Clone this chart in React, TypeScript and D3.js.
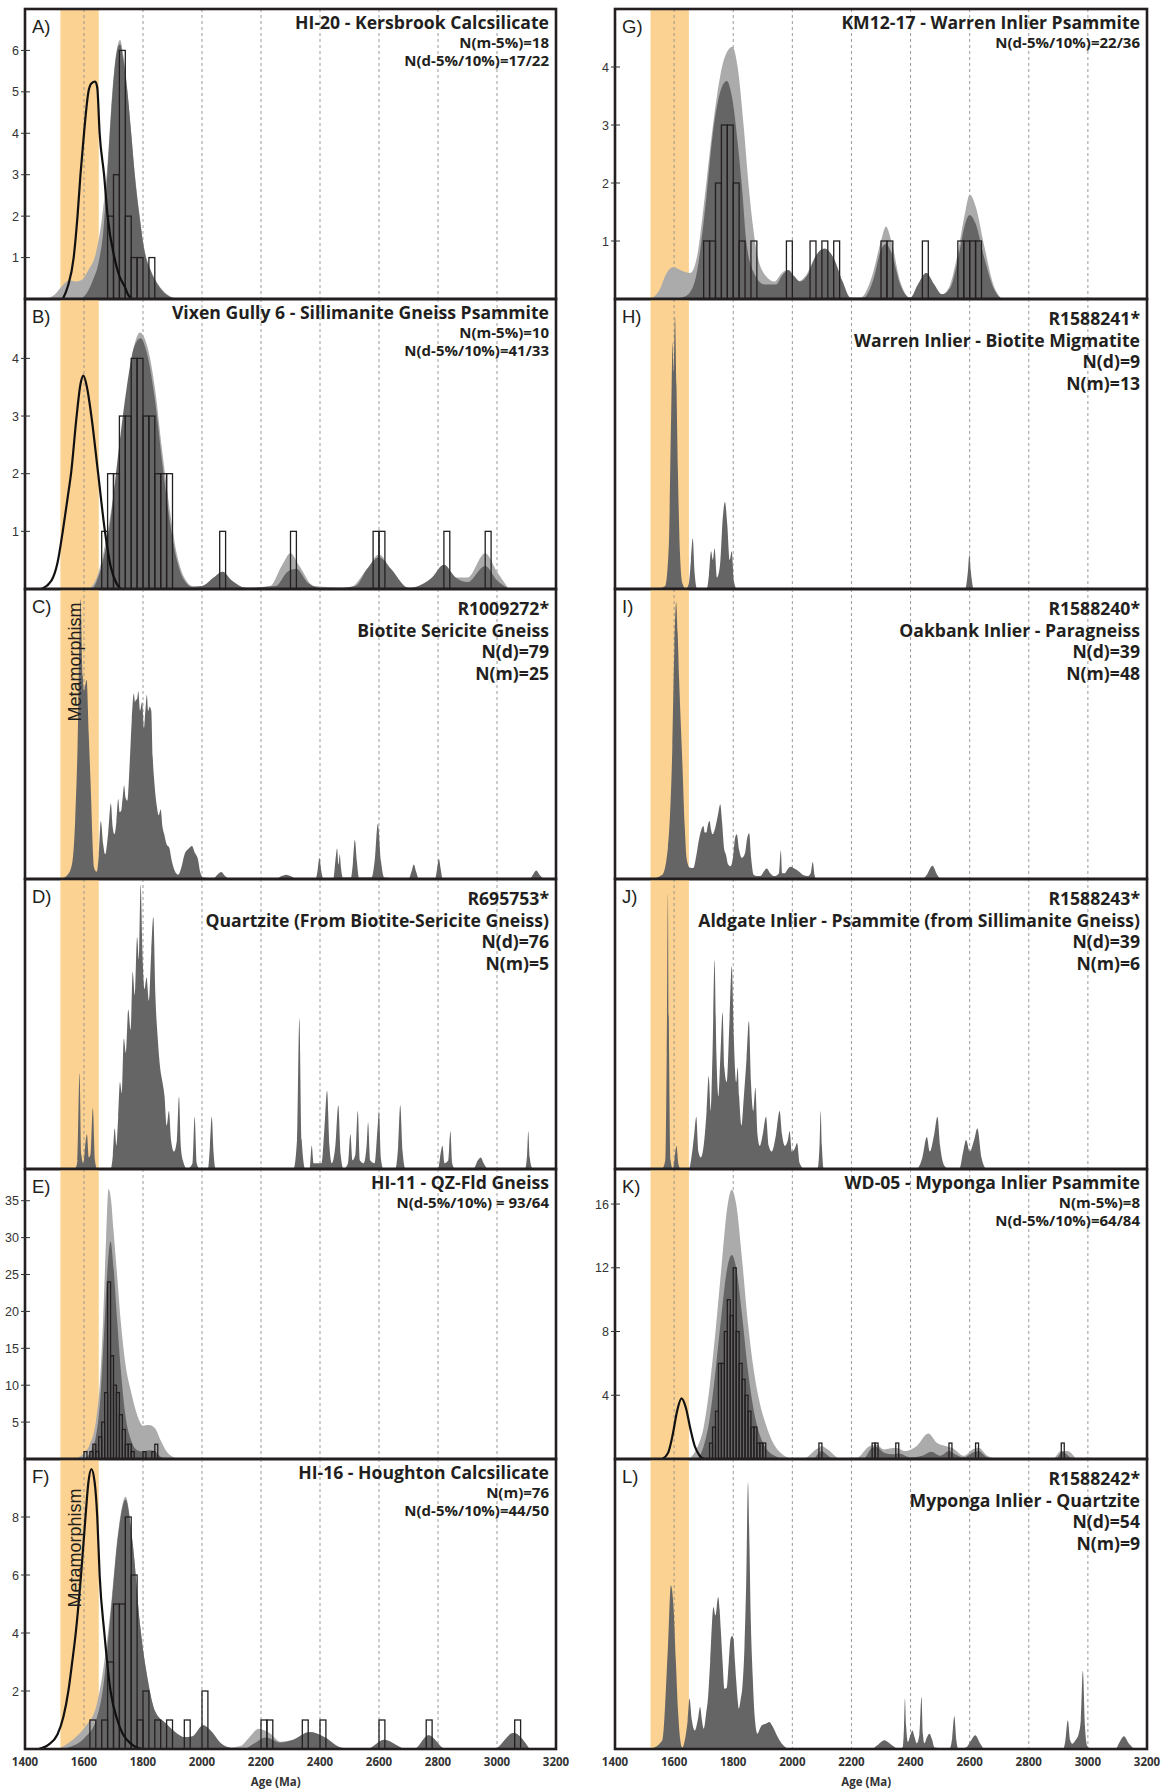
import React from 'react';
import * as d3 from 'd3';

type Pt = [number, number];

// ---------- shared axis data ----------
const ageTicks = [1400, 1600, 1800, 2000, 2200, 2400, 2600, 2800, 3000, 3200];
const gridAges = [1600, 1800, 2000, 2200, 2400, 2600, 2800, 3000];
const metamorphismBand = [1520, 1650];

// ---------- A) HI-20 ----------
const aLight: Pt[] = [[1470,0],[1500,0.1],[1530,0.35],[1550,0.45],[1570,0.42],[1590,0.45],[1615,0.7],[1640,1.1],[1660,1.9],[1680,3.3],[1697,5.1],[1712,6.05],[1722,6.25],[1733,5.9],[1747,5.05],[1760,4.0],[1772,3.05],[1788,2.05],[1805,1.2],[1825,0.72],[1850,0.37],[1880,0.12],[1920,0]];
const aDark: Pt[] = [[1590,0],[1610,0.15],[1630,0.45],[1650,0.9],[1665,1.6],[1680,3.1],[1697,5.0],[1712,6.0],[1722,6.15],[1733,5.8],[1747,5.0],[1760,4.0],[1772,3.0],[1788,2.0],[1805,1.15],[1825,0.7],[1850,0.35],[1880,0.1],[1915,0]];
const aMeta: Pt[] = [[1528,0],[1545,0.3],[1565,1.0],[1578,2.0],[1588,3.0],[1600,4.0],[1615,5.0],[1625,5.2],[1638,5.25],[1645,5.1],[1653,4.0],[1668,3.0],[1680,2.0],[1703,1.0],[1720,0.55],[1738,0.3],[1750,0.1],[1762,0]];
const aBars: Pt[] = [[1680,2],[1700,3],[1720,6],[1740,2],[1760,1],[1780,1],[1820,1]];

// ---------- B) Vixen Gully 6 ----------
const bLight: Pt[] = [[1620,0],[1650,0.3],[1680,1.0],[1710,2.0],[1740,3.2],[1765,4.1],[1790,4.45],[1815,4.2],[1840,3.5],[1865,2.4],[1890,1.4],[1915,0.6],[1940,0.2],[1970,0.05],[2000,0.05],[2040,0.2],[2070,0.3],[2100,0.15],[2150,0.02],[2230,0.05],[2270,0.4],[2300,0.62],[2330,0.4],[2380,0.05],[2500,0.02],[2560,0.35],[2600,0.6],[2640,0.35],[2700,0.02],[2780,0.2],[2820,0.42],[2860,0.2],[2900,0.2],[2960,0.62],[3000,0.3],[3040,0]];
const bDark: Pt[] = [[1630,0],[1660,0.4],[1690,1.2],[1715,2.3],[1745,3.5],[1770,4.2],[1792,4.35],[1815,4.05],[1840,3.3],[1865,2.2],[1890,1.2],[1915,0.5],[1940,0.15],[1970,0.03],[2000,0.05],[2040,0.2],[2070,0.3],[2100,0.15],[2150,0.02],[2250,0.05],[2290,0.3],[2320,0.35],[2360,0.1],[2420,0],[2520,0.05],[2560,0.35],[2600,0.55],[2640,0.35],[2700,0.02],[2780,0.2],[2820,0.42],[2860,0.2],[2900,0.12],[2960,0.4],[3000,0.15],[3040,0]];
const bMeta: Pt[] = [[1455,0],[1490,0.15],[1510,0.45],[1528,1.0],[1545,1.6],[1556,2.0],[1575,3.0],[1588,3.55],[1598,3.7],[1610,3.5],[1625,3.0],[1648,2.0],[1671,1.0],[1690,0.4],[1710,0.1],[1725,0]];
const bBars: Pt[] = [[1660,1],[1680,2],[1700,2],[1720,3],[1740,3],[1760,4],[1780,4],[1800,3],[1820,3],[1840,2],[1860,2],[1880,2],[2060,1],[2300,1],[2580,1],[2600,1],[2820,1],[2960,1]];

// ---------- C) R1009272* ----------
const cDark: Pt[] = [[1520,0],[1545,1.5],[1559,5],[1570,20],[1578,45],[1588,96.5],[1596,70],[1600,65],[1609,68.7],[1616,50],[1622,34],[1634,4],[1643,2.5],[1650,8],[1657,20],[1665,12],[1672,8.5],[1682,16],[1691,26],[1697,18],[1703,15.4],[1710,20],[1716,27.6],[1721,23],[1726,23.5],[1731,28],[1736,32.2],[1741,28],[1747,27],[1755,40],[1762,55],[1769,64],[1773,61],[1776,61.8],[1780,62],[1784,64.7],[1790,58],[1797,61],[1803,52],[1808,58],[1813,63.5],[1818,58],[1822,59.4],[1828,58],[1833,42],[1838,34],[1847,25],[1853,22],[1860,24],[1866,18],[1872,15.4],[1880,12],[1889,10.8],[1898,6],[1904,3.8],[1912,2],[1919,1.5],[1930,4],[1941,8.5],[1955,10.5],[1966,11.4],[1976,9],[1985,7.3],[1995,2],[2005,0.5],[2040,0.3],[2055,1.8],[2066,2.4],[2078,1],[2095,0],[2250,0],[2270,1],[2286,1.5],[2300,1],[2320,0],[2385,0],[2392,3],[2398,7.3],[2404,3],[2412,0],[2445,0],[2452,6],[2458,10.5],[2463,5],[2467,8.5],[2471,4],[2478,0.5],[2505,0.5],[2512,6],[2518,13.5],[2525,6],[2532,0.5],[2575,0.5],[2585,6],[2596,19],[2607,6],[2618,0.5],[2700,0],[2710,2.5],[2718,5],[2726,2.5],[2735,0],[2790,0],[2797,3.5],[2803,7],[2809,3.5],[2816,0],[3110,0],[3122,1.5],[3133,2.9],[3144,1.5],[3158,0]];

// ---------- D) R695753* ----------
const dDark: Pt[] = [[1570,0],[1578,3],[1585,33],[1591,5],[1598,2],[1604,8],[1610,12],[1616,4],[1622,5],[1630,21],[1637,3],[1645,0],[1690,0],[1698,5],[1704,14],[1710,8],[1716,18],[1722,30],[1728,26],[1735,45],[1742,40],[1750,55],[1758,48],[1765,68],[1772,60],[1780,80],[1786,72],[1792,98],[1798,75],[1805,62],[1812,66],[1820,58],[1828,75],[1835,87],[1842,60],[1850,45],[1858,35],[1866,30],[1873,25],[1880,15],[1888,20],[1895,10],[1905,6],[1915,10],[1922,25],[1928,8],[1935,3],[1950,0],[1968,2],[1975,18],[1982,2],[1992,0],[2020,0],[2027,8],[2033,18],[2039,6],[2046,0],[2310,0],[2322,10],[2330,52],[2338,10],[2350,0],[2365,0],[2372,8],[2378,2],[2405,2],[2415,14],[2424,27],[2432,8],[2440,2],[2452,8],[2462,22],[2470,5],[2480,0],[2495,2],[2503,12],[2510,3],[2520,5],[2528,20],[2535,3],[2548,2],[2558,8],[2563,16],[2570,3],[2585,2],[2595,14],[2600,20],[2606,4],[2615,0],[2655,0],[2665,8],[2672,22],[2680,6],[2690,0],[2800,0],[2810,6],[2815,8],[2822,2],[2835,3],[2842,13],[2848,2],[2858,0],[2920,0],[2935,3],[2945,4],[2955,2],[2970,0],[3095,0],[3102,5],[3106,13],[3111,4],[3120,0]];

// ---------- E) HI-11 ----------
const eLight: Pt[] = [[1570,0],[1600,0.8],[1620,2],[1640,5],[1655,11],[1665,19],[1675,30],[1683,36.6],[1692,35],[1700,31],[1712,25],[1725,18.5],[1740,13],[1760,9],[1780,6],[1800,4.5],[1820,4.6],[1840,4.2],[1860,2.5],[1880,1.0],[1900,0.3],[1920,0]];
const eDark: Pt[] = [[1600,0],[1620,0.8],[1640,3],[1655,8],[1668,17],[1680,26],[1690,29.5],[1700,26],[1712,19],[1725,12],[1740,6],[1760,2.5],[1780,1.2],[1800,1],[1820,1.2],[1840,1],[1860,0.3],[1880,0]];
const eBars: Pt[] = [[1600,1],[1620,1],[1630,2],[1640,1],[1650,3],[1660,5],[1670,9],[1680,24],[1690,14],[1700,10],[1710,9],[1720,6],[1730,4],[1740,2],[1750,2],[1760,1],[1800,1],[1830,1],[1840,2]];

// ---------- F) HI-16 ----------
const fLight: Pt[] = [[1515,0],[1560,0.3],[1603,0.76],[1641,1.45],[1666,2.8],[1690,4.8],[1716,7.5],[1741,8.7],[1766,7.0],[1791,4.2],[1816,2.4],[1841,1.3],[1879,0.87],[1916,0.53],[1941,0.41],[1966,0.43],[2004,0.82],[2029,0.64],[2066,0.18],[2100,0.05],[2130,0.1],[2160,0.4],[2192,0.7],[2229,0.55],[2267,0.25],[2304,0.3],[2366,0.59],[2417,0.4],[2470,0.05],[2500,0],[2560,0],[2617,0.32],[2693,0],[2720,0],[2768,0.47],[2825,0],[2990,0],[3056,0.55],[3110,0]];
const fDark: Pt[] = [[1525,0],[1560,0.1],[1603,0.4],[1641,1.0],[1666,2.2],[1690,4.6],[1716,7.4],[1741,8.6],[1766,7.0],[1791,4.2],[1816,2.4],[1841,1.3],[1879,0.87],[1916,0.53],[1941,0.41],[1966,0.43],[2004,0.82],[2029,0.64],[2066,0.18],[2100,0.03],[2141,0],[2170,0.15],[2217,0.4],[2267,0.22],[2304,0.3],[2366,0.59],[2417,0.4],[2470,0.05],[2500,0],[2560,0],[2617,0.32],[2693,0],[2720,0],[2768,0.47],[2825,0],[2990,0],[3056,0.55],[3110,0]];
const fMeta: Pt[] = [[1446,0],[1480,0.15],[1510,0.5],[1530,1.1],[1547,2.0],[1560,3.0],[1572,4.0],[1590,6.0],[1605,8.0],[1615,9.2],[1625,9.65],[1636,9.2],[1645,8.0],[1653,6.0],[1669,4.0],[1690,2.0],[1713,1.0],[1730,0.55],[1747,0.3],[1770,0.1],[1797,0]];
const fBars: Pt[] = [[1620,1],[1660,1],[1680,3],[1700,5],[1720,5],[1740,8],[1760,6],[1780,1],[1800,2],[1840,1],[1880,1],[1940,1],[2000,2],[2200,1],[2220,1],[2340,1],[2400,1],[2600,1],[2760,1],[3060,1]];

// ---------- G) KM12-17 ----------
const gLight: Pt[] = [[1522,0],[1550,0.15],[1575,0.45],[1598,0.55],[1620,0.5],[1655,0.45],[1680,0.8],[1700,1.6],[1720,2.5],[1745,3.5],[1770,4.15],[1797,4.35],[1815,4.0],[1835,3.0],[1855,1.8],[1882,0.75],[1910,0.4],[1939,0.3],[1965,0.45],[1983,0.5],[2000,0.4],[2020,0.3],[2045,0.4],[2075,0.7],[2109,0.85],[2140,0.7],[2170,0.3],[2197,0.02],[2230,0.02],[2270,0.4],[2300,1.0],[2317,1.25],[2335,1.0],[2365,0.3],[2399,0.02],[2425,0.25],[2453,0.45],[2480,0.25],[2506,0.08],[2530,0.2],[2560,0.8],[2585,1.5],[2600,1.8],[2620,1.6],[2650,0.9],[2680,0.25],[2708,0]];
const gDark: Pt[] = [[1600,0],[1640,0.05],[1670,0.3],[1690,0.9],[1710,1.8],[1730,2.8],[1755,3.55],[1778,3.76],[1797,3.45],[1815,2.7],[1830,1.9],[1844,1.0],[1870,0.45],[1907,0.25],[1945,0.25],[1965,0.4],[1987,0.5],[2005,0.4],[2027,0.3],[2050,0.4],[2080,0.75],[2109,0.87],[2140,0.7],[2170,0.3],[2197,0.02],[2240,0.02],[2275,0.35],[2300,0.85],[2317,0.95],[2335,0.8],[2365,0.25],[2399,0.02],[2425,0.25],[2453,0.45],[2480,0.25],[2506,0.08],[2535,0.2],[2565,0.8],[2585,1.3],[2600,1.45],[2620,1.3],[2650,0.7],[2680,0.2],[2708,0]];
const gBars: Pt[] = [[1700,1],[1720,1],[1740,2],[1760,3],[1780,3],[1800,2],[1820,1],[1860,1],[1980,1],[2060,1],[2100,1],[2140,1],[2300,1],[2320,1],[2440,1],[2560,1],[2580,1],[2600,1],[2620,1]];

// ---------- H) R1588241* ----------
const hDark: Pt[] = [[1540,0],[1570,1],[1582,15],[1590,60],[1595,85],[1598,75],[1603,94],[1608,70],[1613,40],[1620,12],[1628,2],[1640,0],[1650,2],[1657,10],[1663,17.5],[1669,6],[1678,0],[1710,0],[1718,5],[1725,13],[1731,10],[1737,14],[1745,4],[1755,8],[1765,25],[1772,30],[1780,22],[1788,10],[1795,13],[1802,3],[1812,0],[2585,0],[2594,6],[2599,12],[2604,6],[2612,0]];

// ---------- I) R1588240* ----------
const iDark: Pt[] = [[1522,0],[1560,1.5],[1579,10.8],[1594,45.5],[1601,80],[1607,95.4],[1612,85],[1617,68.7],[1628,39.7],[1636,18],[1642,7.3],[1652,4],[1665,3.8],[1675,8],[1683,13],[1692,17],[1699,18.3],[1704,16],[1709,16],[1715,19],[1720,20],[1725,17],[1730,15.4],[1740,18],[1750,23],[1756,25.8],[1762,20],[1770,10],[1775,8.5],[1783,5],[1791,4.4],[1800,8],[1806,14],[1812,15.4],[1820,10],[1829,7.3],[1840,9],[1847,14],[1854,15.8],[1860,8],[1869,1.5],[1880,1],[1892,1],[1903,2.5],[1913,3.6],[1925,2],[1939,1],[1955,2],[1961,9.8],[1966,2],[1975,2],[1985,3.5],[1995,4.2],[2008,3.5],[2021,2.7],[2035,1.5],[2052,1],[2062,2],[2069,5.9],[2075,1.5],[2081,0],[2440,0],[2455,1.5],[2474,4.6],[2490,1.5],[2500,0]];

// ---------- J) R1588243* ----------
const jDark: Pt[] = [[1560,0],[1570,3],[1575,40],[1579,95],[1583,40],[1588,3],[1596,0],[1602,4],[1608,8],[1614,2],[1622,0],[1650,0],[1660,5],[1668,12],[1675,18],[1682,6],[1690,4],[1700,8],[1710,20],[1717,32],[1724,20],[1730,40],[1737,72],[1743,40],[1750,25],[1757,40],[1764,54],[1770,35],[1778,30],[1787,50],[1795,70],[1802,45],[1810,30],[1815,35],[1820,25],[1828,15],[1836,25],[1845,38],[1853,51],[1860,30],[1868,20],[1875,28],[1882,12],[1890,8],[1900,12],[1911,18],[1920,8],[1930,6],[1945,12],[1957,20],[1965,12],[1975,8],[1985,10],[1991,13],[1998,6],[2008,7],[2016,9],[2025,2],[2040,0],[2085,0],[2092,8],[2096,20],[2100,8],[2106,0],[2420,0],[2440,4],[2455,11],[2465,6],[2480,12],[2491,18],[2500,8],[2515,1],[2530,0],[2565,0],[2578,6],[2588,10],[2600,6],[2615,10],[2626,14],[2640,4],[2655,0]];

// ---------- K) WD-05 ----------
const kLight: Pt[] = [[1650,0],[1680,0.8],[1700,2],[1720,4.5],[1740,8],[1760,12],[1780,15.8],[1795,16.9],[1810,16],[1830,12.5],[1850,8.5],[1870,5.5],[1890,3.5],[1910,2.2],[1930,1.2],[1960,0.4],[2000,0.05],[2040,0.05],[2080,0.6],[2100,0.8],[2120,0.6],[2160,0.05],[2220,0.1],[2260,0.8],[2285,0.9],[2310,0.6],[2350,0.7],[2380,0.5],[2420,0.8],[2460,1.6],[2490,1.0],[2520,0.8],[2540,0.7],[2580,0.2],[2610,0.6],[2630,0.7],[2660,0.2],[2700,0],[2880,0],[2910,0.5],[2930,0.5],[2960,0]];
const kDark: Pt[] = [[1680,0],[1700,0.8],[1720,2.5],[1740,5.5],[1760,9],[1780,12],[1795,12.8],[1810,12],[1830,9],[1850,5.5],[1870,3],[1890,1.5],[1910,0.7],[1940,0.2],[1980,0],[2070,0],[2090,0.4],[2100,0.5],[2115,0.3],[2140,0],[2240,0],[2270,0.7],[2285,0.75],[2310,0.4],[2340,0.3],[2360,0.35],[2400,0.1],[2440,0.2],[2470,0.45],[2500,0.2],[2530,0.5],[2550,0.3],[2580,0.1],[2610,0.4],[2630,0.5],[2660,0.1],[2700,0],[2890,0],[2915,0.45],[2940,0.1],[2960,0]];
const kMeta: Pt[] = [[1560,0],[1580,0.4],[1595,1.5],[1610,3.0],[1625,3.8],[1640,3.2],[1655,1.9],[1670,0.8],[1685,0.25],[1700,0]];
const kBars: Pt[] = [[1720,1],[1730,2],[1740,3],[1750,6],[1760,6],[1770,8],[1780,10],[1790,9],[1800,12],[1810,8],[1820,6],[1830,5],[1840,4],[1850,3],[1860,2],[1870,2],[1880,1],[1890,1],[1900,1],[2090,1],[2270,1],[2280,1],[2350,1],[2530,1],[2620,1],[2910,1]];

// ---------- L) R1588242* ----------
const lDark: Pt[] = [[1522,0],[1560,3],[1579,35],[1589,56.4],[1598,49],[1606,30],[1614,12],[1621,3],[1627,0.5],[1640,5.3],[1646,10],[1652,17.4],[1660,10],[1670,6.4],[1680,10],[1688,14.5],[1694,10],[1700,7],[1708,12],[1715,18],[1722,30],[1733,49],[1740,46],[1749,52.4],[1754,48],[1758,41],[1764,30],[1770,20.8],[1778,21],[1785,30],[1791,38],[1796,39],[1801,38],[1806,30],[1810,23.7],[1815,17],[1819,13.9],[1825,17],[1831,21.4],[1838,35],[1844,58],[1850,92],[1855,70],[1859,46.7],[1866,25],[1872,12],[1882,5.3],[1890,7],[1897,8.2],[1905,8.5],[1915,9],[1922,9.3],[1932,8],[1945,5.3],[1960,2.5],[1976,0.7],[1995,0],[2266,0],[2290,1.5],[2311,3],[2335,1.5],[2360,0],[2373,0.5],[2378,8],[2381,17.4],[2385,8],[2391,2.4],[2400,5],[2406,6.4],[2414,4],[2421,2],[2430,5],[2437,18],[2442,5],[2447,2],[2455,4],[2464,5.3],[2472,3.5],[2481,0.5],[2531,0],[2541,4],[2548,11.3],[2555,3],[2562,0],[2588,0.5],[2605,3],[2619,4.7],[2635,2],[2651,0],[2916,0],[2924,3],[2932,9.9],[2940,3],[2947,1.8],[2958,3],[2969,5.3],[2976,10],[2983,27],[2990,8],[2998,1],[3011,0],[3093,0],[3108,2.5],[3122,4.4],[3138,2],[3156,0]];

// ---------- panel texts ----------
const titlesA = ['HI-20 - Kersbrook Calcsilicate'];
const notesA = ['N(m-5%)=18', 'N(d-5%/10%)=17/22'];
const titlesB = ['Vixen Gully 6 - Sillimanite Gneiss Psammite'];
const notesB = ['N(m-5%)=10', 'N(d-5%/10%)=41/33'];
const titlesC = ['R1009272*', 'Biotite Sericite Gneiss', 'N(d)=79', 'N(m)=25'];
const titlesD = ['R695753*', 'Quartzite (From Biotite-Sericite Gneiss)', 'N(d)=76', 'N(m)=5'];
const titlesE = ['HI-11 - QZ-Fld Gneiss'];
const notesE = ['N(d-5%/10%) = 93/64'];
const titlesF = ['HI-16 - Houghton Calcsilicate'];
const notesF = ['N(m)=76', 'N(d-5%/10%)=44/50'];
const titlesG = ['KM12-17 - Warren Inlier Psammite'];
const notesG = ['N(d-5%/10%)=22/36'];
const titlesH = ['R1588241*', 'Warren Inlier - Biotite Migmatite', 'N(d)=9', 'N(m)=13'];
const titlesI = ['R1588240*', 'Oakbank Inlier - Paragneiss', 'N(d)=39', 'N(m)=48'];
const titlesJ = ['R1588243*', 'Aldgate Inlier - Psammite (from Sillimanite Gneiss)', 'N(d)=39', 'N(m)=6'];
const titlesK = ['WD-05 - Myponga Inlier Psammite'];
const notesK = ['N(m-5%)=8', 'N(d-5%/10%)=64/84'];
const titlesL = ['R1588242*', 'Myponga Inlier - Quartzite', 'N(d)=54', 'N(m)=9'];

const panels = [
  { id: 'A', col: 0, row: 0, yMax: 7.0, ticks: [1, 2, 3, 4, 5, 6], light: aLight, dark: aDark, meta: aMeta, bars: aBars, bin: 20, titles: titlesA, notes: notesA },
  { id: 'B', col: 0, row: 1, yMax: 5.03, ticks: [1, 2, 3, 4], light: bLight, dark: bDark, meta: bMeta, bars: bBars, bin: 20, titles: titlesB, notes: notesB },
  { id: 'C', col: 0, row: 2, yMax: 100, ticks: [], dark: cDark, titles: titlesC, metaLabel: 73 },
  { id: 'D', col: 0, row: 3, yMax: 100, ticks: [], dark: dDark, titles: titlesD },
  { id: 'E', col: 0, row: 4, yMax: 39.3, ticks: [5, 10, 15, 20, 25, 30, 35], light: eLight, dark: eDark, bars: eBars, bin: 10, titles: titlesE, notes: notesE },
  { id: 'F', col: 0, row: 5, yMax: 10, ticks: [2, 4, 6, 8], light: fLight, dark: fDark, meta: fMeta, bars: fBars, bin: 20, titles: titlesF, notes: notesF, metaLabel: 89 },
  { id: 'G', col: 1, row: 0, yMax: 5.0, ticks: [1, 2, 3, 4], light: gLight, dark: gDark, bars: gBars, bin: 20, titles: titlesG, notes: notesG },
  { id: 'H', col: 1, row: 1, yMax: 100, ticks: [], dark: hDark, titles: titlesH },
  { id: 'I', col: 1, row: 2, yMax: 100, ticks: [], dark: iDark, titles: titlesI },
  { id: 'J', col: 1, row: 3, yMax: 100, ticks: [], dark: jDark, titles: titlesJ },
  { id: 'K', col: 1, row: 4, yMax: 18.2, ticks: [4, 8, 12, 16], light: kLight, dark: kDark, meta: kMeta, bars: kBars, bin: 10, titles: titlesK, notes: notesK },
  { id: 'L', col: 1, row: 5, yMax: 100, ticks: [], dark: lDark, titles: titlesL },
];

const colLeft = [25, 615];
const colWidth = [531, 532];
const top0 = 9;
const panelH = 290;

const ORANGE = '#fbd291';
const LIGHT = '#ababab';
const DARK = '#666565';
const INK = '#231f20';
const TITLE_FONT = '"Open Sans", "DejaVu Sans", sans-serif';
const LABEL_FONT = '"Liberation Sans", Arial, sans-serif';

function Panel({ p }: { p: any }) {
  const x0 = colLeft[p.col];
  const w = colWidth[p.col];
  const top = top0 + p.row * panelH;
  const bottom = top + panelH;
  const x = d3.scaleLinear().domain([1400, 3200]).range([x0, x0 + w]);
  const y = d3.scaleLinear().domain([0, p.yMax]).range([bottom, top]);
  const area = d3.area<Pt>().x((d) => x(d[0])).y0(bottom).y1((d) => y(d[1])).curve(d3.curveMonotoneX);
  const line = d3.line<Pt>().x((d) => x(d[0])).y((d) => y(d[1])).curve(d3.curveMonotoneX);
  const clipId = 'clip' + p.id;
  const big = !p.notes;
  const right = x0 + w - 7;

  return (
    <g>
      <defs>
        <clipPath id={clipId}>
          <rect x={x0} y={top} width={w} height={panelH} />
        </clipPath>
      </defs>
      <rect
        x={x(metamorphismBand[0])}
        y={top}
        width={x(metamorphismBand[1]) - x(metamorphismBand[0])}
        height={panelH}
        fill={ORANGE}
      />
      {gridAges.map((a) => (
        <line key={a} x1={x(a)} x2={x(a)} y1={top} y2={bottom} stroke="#8f8f8f" strokeWidth={0.9} strokeDasharray="3,3" />
      ))}
      <g clipPath={`url(#${clipId})`}>
        {p.light && <path d={area(p.light) || ''} fill={LIGHT} />}
        {p.dark && <path d={area(p.dark) || ''} fill={DARK} />}
        {p.bars &&
          p.bars.map((b: Pt, i: number) => (
            <rect
              key={i}
              x={x(b[0])}
              y={y(b[1])}
              width={x(b[0] + p.bin) - x(b[0])}
              height={bottom - y(b[1])}
              fill="none"
              stroke={INK}
              strokeWidth={1.3}
            />
          ))}
        {p.meta && <path d={line(p.meta) || ''} fill="none" stroke="#111" strokeWidth={2.2} />}
      </g>
      {p.metaLabel && (
        <text
          transform={`translate(${x(1565) + 7},${top + p.metaLabel}) rotate(-90)`}
          textAnchor="middle"
          fontFamily={LABEL_FONT}
          fontSize={18}
          fill="#231f20"
        >
          Metamorphism
        </text>
      )}
      <rect x={x0} y={top} width={w} height={panelH} fill="none" stroke={INK} strokeWidth={2.6} />
      {p.ticks.map((t: number) => (
        <g key={t}>
          <line x1={x0 - 4} x2={x0 + 5} y1={y(t)} y2={y(t)} stroke="#333" strokeWidth={1} />
          <text x={x0 - 6} y={y(t) + 4.5} textAnchor="end" fontFamily={LABEL_FONT} fontSize={12.5} fill="#333">
            {t}
          </text>
        </g>
      ))}
      <text x={x0 + 7} y={top + 24} fontFamily={LABEL_FONT} fontSize={18.5} fill="#231f20">
        {p.id + ')'}
      </text>
      {big
        ? p.titles.map((s: string, i: number) => (
            <text key={i} x={right} y={top + 26 + i * 21.5} textAnchor="end" fontFamily={TITLE_FONT} fontWeight={700} fontSize={17.6} fill="#231f20">
              {s}
            </text>
          ))
        : [
            <text key="t" x={right} y={top + 20} textAnchor="end" fontFamily={TITLE_FONT} fontWeight={700} fontSize={17.6} fill="#231f20">
              {p.titles[0]}
            </text>,
            ...p.notes.map((s: string, i: number) => (
              <text key={'n' + i} x={right} y={top + 38.5 + i * 18} textAnchor="end" fontFamily={TITLE_FONT} fontWeight={700} fontSize={15} fill="#231f20">
                {s}
              </text>
            )),
          ]}
    </g>
  );
}

export default function App() {
  const axisY = top0 + 6 * panelH;
  return (
    <svg
      width={1173}
      height={1792}
      style={{ position: 'absolute', left: 0, top: 0, background: '#fff' }}
    >
      <rect x={0} y={0} width={1173} height={1792} fill="#fff" />
      {panels.map((p) => (
        <Panel key={p.id} p={p} />
      ))}
      {[0, 1].map((c) => {
        const x = d3.scaleLinear().domain([1400, 3200]).range([colLeft[c], colLeft[c] + colWidth[c]]);
        return (
          <g key={c}>
            {ageTicks.map((t) => (
              <text key={t} x={x(t)} y={axisY + 17} textAnchor="middle" fontFamily={TITLE_FONT} fontWeight={700} fontSize={11.5} fill="#333">
                {t}
              </text>
            ))}
            <text x={x(2250)} y={axisY + 37} textAnchor="middle" fontFamily={TITLE_FONT} fontWeight={700} fontSize={11.5} fill="#333">
              Age (Ma)
            </text>
          </g>
        );
      })}
    </svg>
  );
}
